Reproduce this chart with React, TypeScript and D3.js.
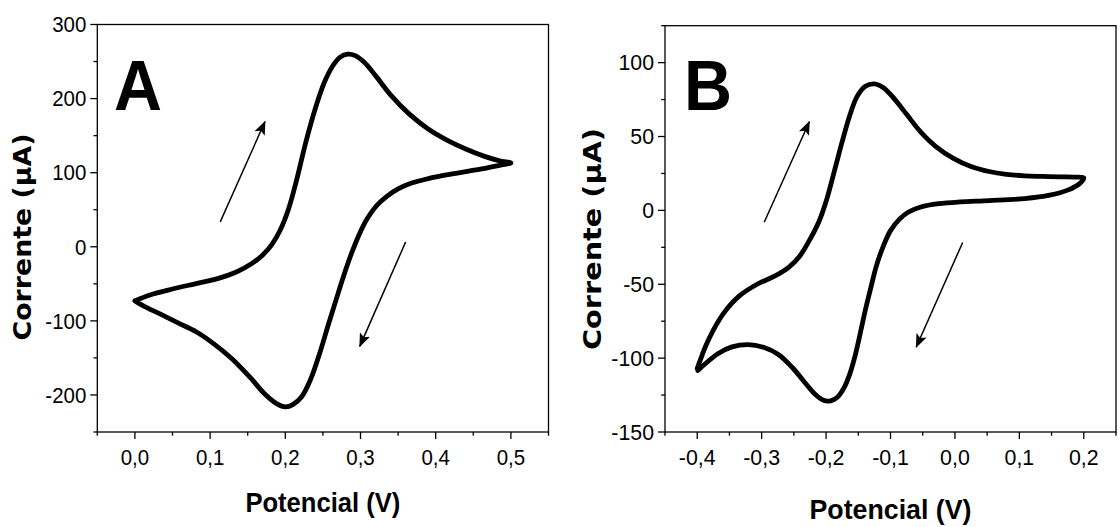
import React from "react";
import * as d3 from "d3";

// ---- Panel A: cyclic voltammogram, 0.0 → 0.5 V → 0.0 V ----
const potentialA = [
  0, 0.02, 0.05, 0.08, 0.11, 0.135, 0.155, 0.17, 0.182, 0.193, 0.204, 0.215, 0.227, 0.24,
  0.252, 0.263, 0.273, 0.283, 0.293, 0.305, 0.32, 0.34, 0.365, 0.39, 0.415, 0.44, 0.465,
  0.485, 0.5,
  0.485, 0.461, 0.438, 0.414, 0.39, 0.368, 0.35, 0.335, 0.321, 0.309, 0.298, 0.288, 0.278,
  0.268, 0.257, 0.245, 0.234, 0.222, 0.21, 0.2, 0.189, 0.172, 0.153, 0.129, 0.105, 0.082,
  0.058, 0.034, 0.01, 0,
];
const currentA = [
  -73, -65, -57, -50, -43, -34, -23, -11, 3, 22, 50, 90, 140, 187,
  222, 244, 256, 260, 258, 249, 231, 205, 179, 159, 144, 132, 122,
  116, 113,
  110, 105, 101, 97, 92, 86, 78, 68, 55, 38, 16, -9, -38,
  -70, -106, -146, -178, -202, -213, -216, -212, -198, -176, -151, -131, -115,
  -103, -91, -79, -73,
];

// ---- Panel B: cyclic voltammogram, -0.4 → 0.2 V → -0.4 V ----
const potentialB = [
  -0.4, -0.395, -0.386, -0.375, -0.358, -0.335, -0.307, -0.28, -0.258, -0.241, -0.225, -0.211,
  -0.2, -0.186, -0.175, -0.163, -0.152, -0.139, -0.125, -0.111, -0.094, -0.075, -0.053, -0.03,
  -0.003, 0.025, 0.053, 0.08, 0.108, 0.136, 0.164, 0.186, 0.2,
  0.194, 0.175, 0.147, 0.108, 0.053, 0.008, -0.025, -0.053, -0.072, -0.086, -0.1, -0.111,
  -0.122, -0.13, -0.139, -0.147, -0.155, -0.163, -0.172, -0.182, -0.193, -0.205, -0.217,
  -0.232, -0.252, -0.274, -0.296, -0.321, -0.346, -0.368, -0.388, -0.399,
];
const currentB = [
  -107, -101, -91, -81, -69, -58, -50, -44.5, -38.5, -31, -19.6, -7.5,
  6, 28.5, 46.5, 64.5, 77, 84, 85.6, 83, 75.5, 65, 53, 43.4,
  35.4, 29.7, 26.3, 24.4, 23.4, 23, 22.7, 22.5, 22,
  18.3, 13.7, 10.3, 8, 6.6, 5.7, 4.5, 2.3, -1.1, -5.9, -13.7, -24,
  -37.7, -51.4, -67.4, -83.3, -98.5, -110.5, -120, -126.3, -128.9, -128.3, -124.5,
  -117, -106.5, -97.5, -92.8, -90.8, -92.4, -97, -104, -108.4,
];

// ---- Axis ticks ----
const xMajorA = [0, 0.1, 0.2, 0.3, 0.4, 0.5];
const xMinorA = [-0.05, 0.05, 0.15, 0.25, 0.35, 0.45, 0.55];
const yMajorA = [-200, -100, 0, 100, 200, 300];
const yMinorA = [-250, -150, -50, 50, 150, 250];

const xMajorB = [-0.4, -0.3, -0.2, -0.1, 0, 0.1, 0.2];
const xMinorB = [-0.45, -0.35, -0.25, -0.15, -0.05, 0.05, 0.15, 0.25];
const yMajorB = [-150, -100, -50, 0, 50, 100];
const yMinorB = [-125, -75, -25, 25, 75, 125];

// ---- Scan-direction arrows: [x0, y0, x1, y1] in data units ----
const arrowsA = [
  [0.1135, 33.6, 0.173, 169],
  [0.36, 6.4, 0.299, -134.5],
];
const arrowsB = [
  [-0.296, -8, -0.226, 60],
  [0.012, -21.7, -0.06, -92.5],
];

const xTitle = "Potencial (V)";
const yTitle = "Corrente (\u00b5A)";

// decimal comma, plain hyphen for negatives
const fmtX = (v: number) => v.toFixed(1).replace(".", ",");
const fmtY = (v: number) => String(v);

type PanelProps = {
  letter: string;
  xs: number[];
  ys: number[];
  xDomain: [number, number];
  yDomain: [number, number];
  left: number;
  right: number;
  top: number;
  bottom: number;
  xMajor: number[];
  xMinor: number[];
  yMajor: number[];
  yMinor: number[];
  arrows: number[][];
  squeeze: number;
  xTitleY: number;
  xTitleLen: number;
  yTitleX: number;
  yTitleLen: number;
  yTitleCy: number;
  letterX: number;
  markerId: string;
};

function Panel(p: PanelProps) {
  const x = d3.scaleLinear().domain(p.xDomain).range([p.left, p.right]);
  const y = d3.scaleLinear().domain(p.yDomain).range([p.bottom, p.top]);
  const pts: [number, number][] = p.xs.map((v, i) => [v, p.ys[i]]);
  const line = d3
    .line<[number, number]>()
    .x((d) => x(d[0]))
    .y((d) => y(d[1]))
    .curve(d3.curveCatmullRom.alpha(0.5));

  const tickFont = {
    fontFamily: "'Liberation Sans', Arial, sans-serif",
    fontSize: 22,
    fill: "#000",
  } as const;

  const majorLen = 7;
  const minorLen = 3.8;
  const cx = (p.left + p.right) / 2;

  return (
    <g>
      {/* frame */}
      <rect
        x={p.left}
        y={p.top}
        width={p.right - p.left}
        height={p.bottom - p.top}
        fill="none"
        stroke="#000"
        strokeWidth={1.3}
      />
      {/* x ticks */}
      {p.xMajor.map((v) => (
        <g key={"xM" + v}>
          <line x1={x(v)} x2={x(v)} y1={p.bottom} y2={p.bottom + majorLen} stroke="#000" strokeWidth={1.3} />
          <text
            {...tickFont}
            textAnchor="middle"
            transform={`translate(${x(v)},${p.bottom + 33}) scale(${p.squeeze},1)`}
          >
            {fmtX(v)}
          </text>
        </g>
      ))}
      {p.xMinor.map((v) => (
        <line key={"xm" + v} x1={x(v)} x2={x(v)} y1={p.bottom} y2={p.bottom + minorLen} stroke="#000" strokeWidth={1.3} />
      ))}
      {/* y ticks */}
      {p.yMajor.map((v) => (
        <g key={"yM" + v}>
          <line x1={p.left - majorLen} x2={p.left} y1={y(v)} y2={y(v)} stroke="#000" strokeWidth={1.3} />
          <text
            {...tickFont}
            textAnchor="end"
            transform={`translate(${p.left - 11},${y(v) + 7.8}) scale(${p.squeeze},1)`}
          >
            {fmtY(v)}
          </text>
        </g>
      ))}
      {p.yMinor.map((v) => (
        <line key={"ym" + v} x1={p.left - minorLen} x2={p.left} y1={y(v)} y2={y(v)} stroke="#000" strokeWidth={1.3} />
      ))}

      {/* voltammogram */}
      <path
        d={line(pts) || ""}
        fill="none"
        stroke="#000"
        strokeWidth={4.8}
        strokeLinejoin="round"
        strokeLinecap="round"
      />

      {/* scan direction arrows */}
      {p.arrows.map((a, i) => (
        <line
          key={"ar" + i}
          x1={x(a[0])}
          y1={y(a[1])}
          x2={x(a[2])}
          y2={y(a[3])}
          stroke="#000"
          strokeWidth={1.5}
          markerEnd={`url(#${p.markerId})`}
        />
      ))}

      {/* panel letter */}
      <text
        fontFamily="'Liberation Sans', Arial, sans-serif"
        fontWeight="bold"
        fontSize={70}
        transform={`translate(${p.letterX},110) scale(0.95,1)`}
      >
        {p.letter}
      </text>

      {/* axis titles */}
      <text
        x={cx}
        y={p.xTitleY}
        textAnchor="middle"
        fontFamily="'Liberation Sans', Arial, sans-serif"
        fontWeight="bold"
        fontSize={28}
        textLength={p.xTitleLen}
        lengthAdjust="spacingAndGlyphs"
      >
        {xTitle}
      </text>
      <text
        transform={`translate(${p.yTitleX},${p.yTitleCy}) rotate(-90)`}
        textAnchor="middle"
        fontFamily="'DejaVu Sans', Verdana, sans-serif"
        fontWeight="bold"
        fontSize={25}
        textLength={p.yTitleLen}
        lengthAdjust="spacingAndGlyphs"
      >
        {yTitle}
      </text>
    </g>
  );
}

export default function App() {
  return (
    <svg
      width={1120}
      height={527}
      viewBox="0 0 1120 527"
      style={{ position: "absolute", left: 0, top: 0, background: "#fff" }}
    >
      <defs>
        {["arrA", "arrB"].map((id) => (
          <marker
            key={id}
            id={id}
            viewBox="0 0 14 11"
            refX={13}
            refY={5.5}
            markerWidth={14}
            markerHeight={11}
            markerUnits="userSpaceOnUse"
            orient="auto"
          >
            <path d="M0,0 L14,5.5 L0,11 L3,5.5 Z" fill="#000" />
          </marker>
        ))}
      </defs>
      <rect width={1120} height={527} fill="#fff" />
      <Panel
        letter="A"
        xs={potentialA}
        ys={currentA}
        xDomain={[-0.05, 0.55]}
        yDomain={[-250, 300]}
        left={97.3}
        right={548.5}
        top={24.5}
        bottom={432}
        xMajor={xMajorA}
        xMinor={xMinorA}
        yMajor={yMajorA}
        yMinor={yMinorA}
        arrows={arrowsA}
        squeeze={0.93}
        xTitleY={512}
        xTitleLen={155}
        yTitleX={31}
        yTitleCy={237}
        yTitleLen={207}
        letterX={114}
        markerId="arrA"
      />
      <Panel
        letter="B"
        xs={potentialB}
        ys={currentB}
        xDomain={[-0.45, 0.25]}
        yDomain={[-150, 125]}
        left={665}
        right={1116}
        top={25.7}
        bottom={432}
        xMajor={xMajorB}
        xMinor={xMinorB}
        yMajor={yMajorB}
        yMinor={yMinorB}
        arrows={arrowsB}
        squeeze={0.97}
        xTitleY={519}
        xTitleLen={162}
        yTitleX={601}
        yTitleCy={239}
        yTitleLen={222}
        letterX={684}
        markerId="arrB"
      />
    </svg>
  );
}
